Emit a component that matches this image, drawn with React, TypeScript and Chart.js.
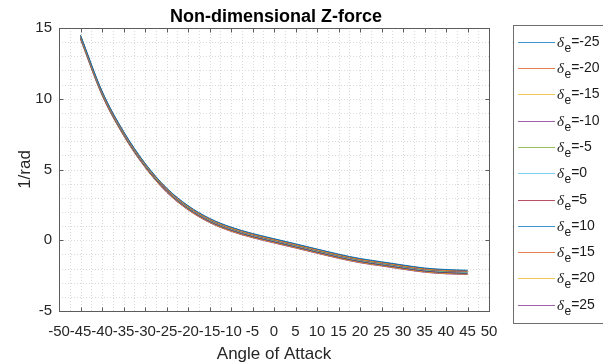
import React, { useEffect, useRef } from 'react';
import { Chart, registerables } from 'chart.js';

Chart.register(...registerables);

// ---------- data ----------
const angles = [-45, -40, -35, -30, -25, -20, -15, -10, -5, 0, 5, 10, 15, 20, 25, 30, 35, 40, 45];
const deltaE = [-25, -20, -15, -10, -5, 0, 5, 10, 15, 20, 25];

const czDeM25 = [14.50, 10.55, 7.70, 5.45, 3.70, 2.45, 1.55, 0.93, 0.48, 0.11, -0.25, -0.62, -0.98, -1.29, -1.52, -1.75, -1.96, -2.07, -2.12];
const czDeM20 = [14.47, 10.52, 7.67, 5.42, 3.67, 2.42, 1.52, 0.90, 0.45, 0.08, -0.28, -0.65, -1.01, -1.32, -1.55, -1.78, -1.99, -2.10, -2.15];
const czDeM15 = [14.44, 10.49, 7.64, 5.39, 3.64, 2.39, 1.49, 0.87, 0.42, 0.05, -0.31, -0.68, -1.04, -1.35, -1.58, -1.81, -2.02, -2.13, -2.18];
const czDeM10 = [14.41, 10.46, 7.61, 5.36, 3.61, 2.36, 1.46, 0.84, 0.39, 0.02, -0.34, -0.71, -1.07, -1.38, -1.61, -1.84, -2.05, -2.16, -2.21];
const czDeM5 = [14.38, 10.43, 7.58, 5.33, 3.58, 2.33, 1.43, 0.81, 0.36, -0.01, -0.37, -0.74, -1.10, -1.41, -1.64, -1.87, -2.08, -2.19, -2.24];
const czDe0 = [14.35, 10.40, 7.55, 5.30, 3.55, 2.30, 1.40, 0.78, 0.33, -0.04, -0.40, -0.77, -1.13, -1.44, -1.67, -1.90, -2.11, -2.22, -2.27];
const czDeP5 = [14.32, 10.37, 7.52, 5.27, 3.52, 2.27, 1.37, 0.75, 0.30, -0.07, -0.43, -0.80, -1.16, -1.47, -1.70, -1.93, -2.14, -2.25, -2.30];
const czDeP10 = [14.29, 10.34, 7.49, 5.24, 3.49, 2.24, 1.34, 0.72, 0.27, -0.10, -0.46, -0.83, -1.19, -1.50, -1.73, -1.96, -2.17, -2.28, -2.33];
const czDeP15 = [14.26, 10.31, 7.46, 5.21, 3.46, 2.21, 1.31, 0.69, 0.24, -0.13, -0.49, -0.86, -1.22, -1.53, -1.76, -1.99, -2.20, -2.31, -2.36];
const czDeP20 = [14.23, 10.28, 7.43, 5.18, 3.43, 2.18, 1.28, 0.66, 0.21, -0.16, -0.52, -0.89, -1.25, -1.56, -1.79, -2.02, -2.23, -2.34, -2.39];
const czDeP25 = [14.20, 10.25, 7.40, 5.15, 3.40, 2.15, 1.25, 0.63, 0.18, -0.19, -0.55, -0.92, -1.28, -1.59, -1.82, -2.05, -2.26, -2.37, -2.42];

const seriesValues = [czDeM25, czDeM20, czDeM15, czDeM10, czDeM5, czDe0, czDeP5, czDeP10, czDeP15, czDeP20, czDeP25];
const seriesColors = ['#0072BD', '#D95319', '#EDB120', '#7E2F8E', '#77AC30', '#4DBEEE', '#A2142F', '#0072BD', '#D95319', '#EDB120', '#7E2F8E'];

const xTicks = [-50, -45, -40, -35, -30, -25, -20, -15, -10, -5, 0, 5, 10, 15, 20, 25, 30, 35, 40, 45, 50];
const yTicks = [-5, 0, 5, 10, 15];

const titleText = 'Non-dimensional Z-force';
const xLabel = 'Angle of Attack';
const yLabel = '1/rad';

const SANS = '"Liberation Sans", Arial, Helvetica, sans-serif';

const decorPlugin = {
  id: 'matlabDecor',
  beforeDatasetsDraw(chart: any) {
    const { ctx, chartArea: ca, scales } = chart;
    const xs = scales.x;
    const ys = scales.y;
    ctx.save();
    ctx.lineWidth = 1;
    ctx.strokeStyle = '#dadada';
    ctx.setLineDash([1, 2]);
    for (let v = xs.min; v <= xs.max + 1e-9; v += 2.5) {
      const px = Math.round(xs.getPixelForValue(v)) + 0.5;
      ctx.beginPath();
      ctx.moveTo(px, ca.top);
      ctx.lineTo(px, ca.bottom);
      ctx.stroke();
    }
    for (let v = ys.min; v <= ys.max + 1e-9; v += 1) {
      const py = Math.round(ys.getPixelForValue(v)) + 0.5;
      ctx.beginPath();
      ctx.moveTo(ca.left, py);
      ctx.lineTo(ca.right, py);
      ctx.stroke();
    }
    ctx.restore();
  },
  afterDraw(chart: any) {
    const { ctx, chartArea: ca, scales } = chart;
    const xs = scales.x;
    const ys = scales.y;
    ctx.save();
    // axes box
    ctx.setLineDash([]);
    ctx.strokeStyle = '#5c5c5c';
    ctx.lineWidth = 1;
    const L = Math.round(ca.left) + 0.5;
    const R = Math.round(ca.right) + 0.5;
    const T = Math.round(ca.top) + 0.5;
    const B = Math.round(ca.bottom) + 0.5;
    ctx.strokeRect(L, T, R - L, B - T);
    // inward ticks
    const tl = 4;
    ctx.beginPath();
    xTicks.forEach((v) => {
      const px = Math.round(xs.getPixelForValue(v)) + 0.5;
      ctx.moveTo(px, B);
      ctx.lineTo(px, B - tl);
      ctx.moveTo(px, T);
      ctx.lineTo(px, T + tl);
    });
    yTicks.forEach((v) => {
      const py = Math.round(ys.getPixelForValue(v)) + 0.5;
      ctx.moveTo(L, py);
      ctx.lineTo(L + tl, py);
      ctx.moveTo(R, py);
      ctx.lineTo(R - tl, py);
    });
    ctx.stroke();

    // title
    ctx.fillStyle = '#000000';
    ctx.font = `bold 18px ${SANS}`;
    ctx.textAlign = 'center';
    ctx.textBaseline = 'alphabetic';
    ctx.fillText(titleText, (ca.left + ca.right) / 2 + 2, 22);

    // axis labels
    ctx.fillStyle = '#262626';
    ctx.font = `17px ${SANS}`;
    ctx.fillText(xLabel, (ca.left + ca.right) / 2, 359);
    ctx.save();
    ctx.translate(30, (ca.top + ca.bottom) / 2);
    ctx.rotate(-Math.PI / 2);
    ctx.fillText(yLabel, 0, 0);
    ctx.restore();

    // legend
    const bx = 513.5;
    const by = 25.5;
    const bh = 298;
    ctx.fillStyle = '#ffffff';
    ctx.fillRect(bx, by, 120, bh);
    ctx.strokeStyle = '#6e6e6e';
    ctx.lineWidth = 1;
    ctx.strokeRect(bx, by, 120, bh);
    ctx.textAlign = 'left';
    deltaE.forEach((d, i) => {
      const yl = Math.round(41.7 + i * 26.3) + 0.5;
      ctx.strokeStyle = seriesColors[i];
      ctx.globalAlpha = 0.75;
      ctx.beginPath();
      ctx.moveTo(518, yl);
      ctx.lineTo(555, yl);
      ctx.stroke();
      ctx.globalAlpha = 1;
      ctx.fillStyle = '#1a1a1a';
      ctx.font = 'italic 15px "Liberation Serif", "DejaVu Serif", serif';
      ctx.fillText('δ', 557, yl + 4);
      const w1 = ctx.measureText('δ').width;
      ctx.font = `12px ${SANS}`;
      ctx.fillText('e', 557 + w1 + 0.5, yl + 9);
      const w2 = ctx.measureText('e').width;
      ctx.font = `14px ${SANS}`;
      ctx.fillText('=' + d, 557 + w1 + w2 + 0.5, yl + 3);
    });
    ctx.restore();
  },
};

export default function App() {
  const canvasRef = useRef<HTMLCanvasElement | null>(null);

  useEffect(() => {
    const canvas = canvasRef.current;
    if (!canvas) return;
    const datasets = deltaE.map((d, i) => ({
      label: `δe=${d}`,
      data: angles.map((a, j) => ({ x: a, y: seriesValues[i][j] })),
      borderColor: seriesColors[i],
      backgroundColor: seriesColors[i],
      borderWidth: 1,
      pointRadius: 0,
      fill: false,
      cubicInterpolationMode: 'monotone' as const,
    }));
    const chart = new Chart(canvas, {
      type: 'line',
      data: { datasets },
      plugins: [decorPlugin],
      options: {
        animation: false,
        responsive: false,
        maintainAspectRatio: false,
        layout: { padding: { top: 28, right: 114, left: 0, bottom: 0 } },
        plugins: {
          legend: { display: false },
          title: { display: false },
          tooltip: { enabled: false },
        },
        scales: {
          x: {
            type: 'linear',
            min: -50,
            max: 50,
            afterBuildTicks: (s: any) => {
              s.ticks = xTicks.map((v) => ({ value: v }));
            },
            afterFit: (s: any) => {
              s.height = 53;
            },
            grid: { display: true, color: 'rgba(0,0,0,0)', drawTicks: false },
            border: { display: false },
            ticks: {
              autoSkip: false,
              maxRotation: 0,
              minRotation: 0,
              padding: 12,
              color: '#262626',
              font: { family: SANS, size: 15 },
              callback: (v: any) => String(v),
            },
          },
          y: {
            type: 'linear',
            min: -5,
            max: 15,
            afterBuildTicks: (s: any) => {
              s.ticks = yTicks.map((v) => ({ value: v }));
            },
            afterFit: (s: any) => {
              s.width = 59;
            },
            grid: { display: true, color: 'rgba(0,0,0,0)', drawTicks: false },
            border: { display: false },
            ticks: {
              padding: 7,
              color: '#262626',
              font: { family: SANS, size: 15 },
              callback: (v: any) => String(v),
            },
          },
        },
      },
    });
    return () => chart.destroy();
  }, []);

  return (
    <div style={{ position: 'absolute', left: 0, top: 0, width: 603, height: 364, background: '#ffffff' }}>
      <canvas ref={canvasRef} width={603} height={364} style={{ display: 'block', width: 603, height: 364 }} />
    </div>
  );
}
